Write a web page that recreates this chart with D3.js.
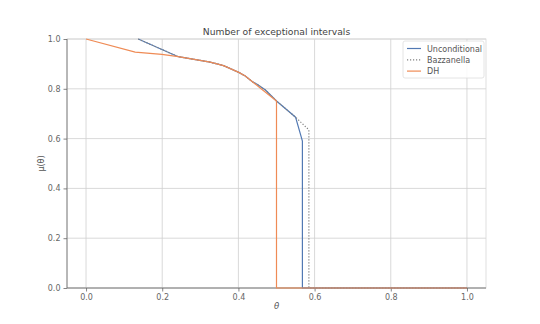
<!DOCTYPE html>
<html><head><meta charset="utf-8">
<script src="https://cdn.jsdelivr.net/npm/d3@7"></script>
<style>body{margin:0;background:#fff;} text{font-family:"DejaVu Sans",sans-serif;}</style>
</head><body><svg id="c" width="540" height="324"></svg>
<script>
const xTicks = [0.0, 0.2, 0.4, 0.6, 0.8, 1.0];
const yTicks = [0.0, 0.2, 0.4, 0.6, 0.8, 1.0];
const seriesNames = ["Unconditional", "Bazzanella", "DH"];
const unconditionalTheta = [0.137, 0.242, 0.326, 0.361, 0.401, 0.418, 0.436, 0.449, 0.471, 0.5, 0.55, 0.566, 0.568, 0.568, 1.0];
const unconditionalMu    = [1.0, 0.929, 0.907, 0.893, 0.866, 0.851, 0.829, 0.818, 0.795, 0.751, 0.686, 0.601, 0.59, 0.0, 0.0];
const bazzanellaTheta = [0.137, 0.242, 0.326, 0.361, 0.401, 0.418, 0.436, 0.449, 0.471, 0.5, 0.55, 0.585, 0.585, 1.0];
const bazzanellaMu    = [1.0, 0.929, 0.907, 0.893, 0.866, 0.851, 0.829, 0.818, 0.795, 0.751, 0.686, 0.635, 0.0, 0.0];
const dhTheta = [0.0, 0.129, 0.199, 0.242, 0.326, 0.361, 0.401, 0.418, 0.436, 0.458, 0.5, 0.5, 1.0];
const dhMu    = [1.0, 0.947, 0.938, 0.929, 0.907, 0.893, 0.866, 0.851, 0.829, 0.802, 0.751, 0.0, 0.0];

const svg = d3.select("#c");
const L = 67, R = 486, T = 39, B = 288;
const x = d3.scaleLinear().domain([-0.05, 1.05]).range([L, R]);
const y = d3.scaleLinear().domain([0, 1]).range([B, T]);

// grid
svg.append("g").selectAll("line").data(xTicks).join("line")
  .attr("x1", d => x(d)).attr("x2", d => x(d)).attr("y1", T).attr("y2", B)
  .attr("stroke", "#cfcfcf").attr("stroke-width", 0.8);
svg.append("g").selectAll("line").data(yTicks).join("line")
  .attr("x1", L).attr("x2", R).attr("y1", d => y(d)).attr("y2", d => y(d))
  .attr("stroke", "#cfcfcf").attr("stroke-width", 0.8);

// frame
svg.append("rect").attr("x", L).attr("y", T).attr("width", R - L).attr("height", B - T)
  .attr("fill", "none").attr("stroke", "#d8d8d8").attr("stroke-width", 0.8);
svg.append("line").attr("x1", L).attr("x2", L).attr("y1", T).attr("y2", B).attr("stroke", "#666").attr("stroke-width", 0.8);
svg.append("line").attr("x1", L).attr("x2", R).attr("y1", B).attr("y2", B).attr("stroke", "#666").attr("stroke-width", 0.8);

// axes
const xAxis = svg.append("g").attr("transform", `translate(0,${B})`)
  .call(d3.axisBottom(x).tickValues(xTicks).tickFormat(d3.format(".1f")).tickSize(3.5).tickPadding(3));
const yAxis = svg.append("g").attr("transform", `translate(${L},0)`)
  .call(d3.axisLeft(y).tickValues(yTicks).tickFormat(d3.format(".1f")).tickSize(3.5).tickPadding(3));
[xAxis, yAxis].forEach(a => {
  a.select(".domain").remove();
  a.selectAll(".tick line").attr("stroke", "#666").attr("stroke-width", 0.8);
  a.selectAll(".tick text").attr("fill", "#666").attr("font-size", 8).attr("font-family", "DejaVu Sans");
});

const line = d3.line().x(d => x(d[0])).y(d => y(d[1]));
const colors = ["#5279b3", "#808080", "#ef8b55"];
const dashes = [null, "1.2,1.8", null];
const data = [
  d3.zip(unconditionalTheta, unconditionalMu),
  d3.zip(bazzanellaTheta, bazzanellaMu),
  d3.zip(dhTheta, dhMu)
];
data.forEach((d, i) => {
  svg.append("path").datum(d).attr("d", line).attr("fill", "none")
    .attr("stroke", colors[i]).attr("stroke-width", 1.2)
    .attr("stroke-dasharray", dashes[i]);
});

// title and labels
svg.append("text").attr("x", (L + R) / 2).attr("y", 35).attr("text-anchor", "middle")
  .attr("font-size", 9.2).attr("fill", "#444").text("Number of exceptional intervals");
svg.append("text").attr("x", (L + R) / 2).attr("y", 309).attr("text-anchor", "middle")
  .attr("font-size", 8.5).attr("fill", "#555").attr("font-style", "italic").text("θ");
svg.append("text").attr("transform", `translate(44,${(T + B) / 2}) rotate(-90)`).attr("text-anchor", "middle")
  .attr("font-size", 8).attr("fill", "#555").text("μ(θ)");

// legend
const lg = svg.append("g").attr("transform", "translate(403,41)");
lg.append("rect").attr("width", 81).attr("height", 37).attr("rx", 2)
  .attr("fill", "#fff").attr("fill-opacity", 0.85).attr("stroke", "#ddd").attr("stroke-width", 0.8);
seriesNames.forEach((n, i) => {
  const yy = 7.5 + i * 11.3;
  lg.append("line").attr("x1", 4).attr("x2", 18).attr("y1", yy).attr("y2", yy)
    .attr("stroke", colors[i]).attr("stroke-width", 1.2).attr("stroke-dasharray", dashes[i]);
  lg.append("text").attr("x", 24).attr("y", yy + 3).attr("font-size", 8).attr("fill", "#555").text(n);
});
</script></body></html>
